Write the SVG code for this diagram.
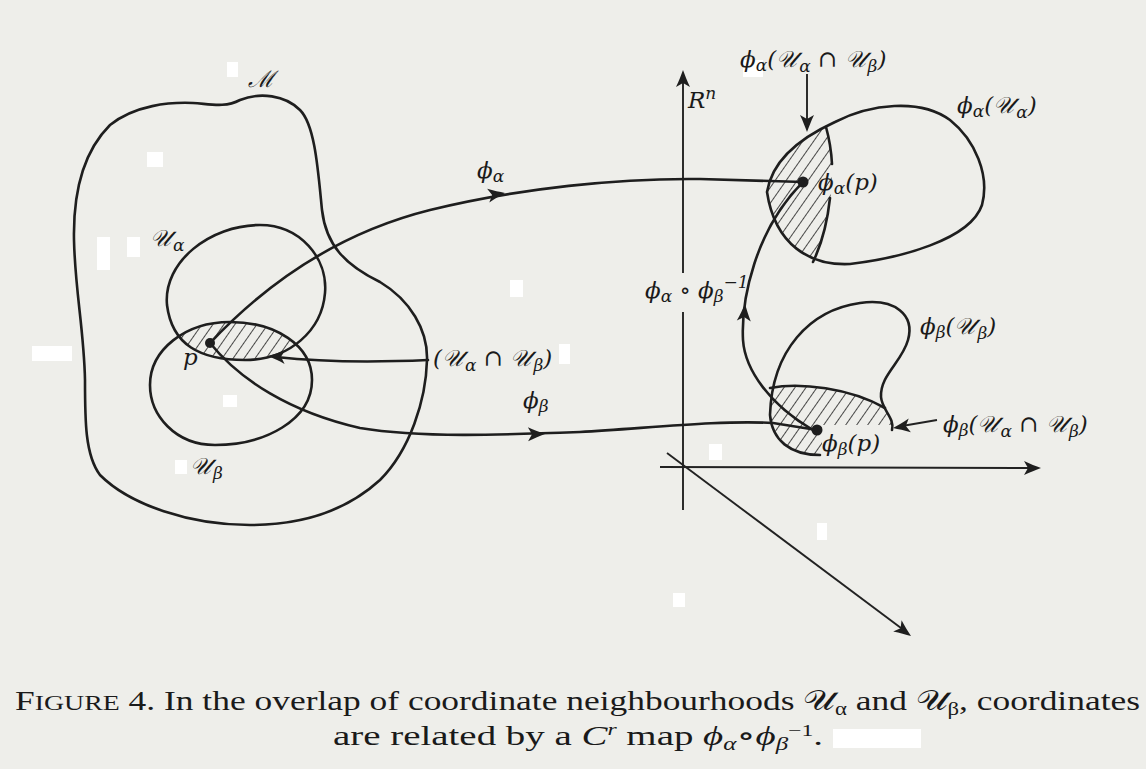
<svg xmlns="http://www.w3.org/2000/svg" width="1146" height="769" viewBox="0 0 1146 769">
<style>
.bg{fill:#eeeeea}
.wp{fill:#ffffff}
.c{fill:none;stroke:#1e1e1e;stroke-width:2.6;stroke-linecap:round;stroke-linejoin:round}
.ax{fill:none;stroke:#222;stroke-width:1.9}
.ah{fill:#1e1e1e}
.dot{fill:#1e1e1e}
.lb{font-family:"DejaVu Serif","Liberation Serif",serif;font-style:italic;font-size:23px;fill:#1a1a1a}
.sub{font-size:17px}
.cap{font-family:"Liberation Serif","DejaVu Serif",serif;font-size:28px;fill:#1a1a1a}
</style>
<defs>
<pattern id="hatch" patternUnits="userSpaceOnUse" width="9" height="9" patternTransform="rotate(35)">
<line x1="0" y1="0" x2="0" y2="9" stroke="#1e1e1e" stroke-width="1.6"/>
</pattern>
<path id="arr" d="M0,0 C-5,-2 -11,-4 -17,-7 L-13,0 L-17,7 C-11,4 -5,2 0,0 Z"/>
<path id="ua" d="M 260,225 C 300,225 328,258 325,293 C 322,330 290,360 245,360 C 200,360 172,345 167,305 C 163,262 210,225 260,225 Z"/>
<path id="ub" d="M 230,322 C 275,322 312,345 312,380 C 312,420 265,445 215,445 C 175,445 150,415 150,385 C 150,350 185,322 230,322 Z"/>
<path id="blobA" d="M 767,192 C 772,160 800,138 835,122 C 870,104 920,98 950,120 C 975,140 990,175 982,205 C 970,240 900,258 850,264 C 810,266 775,245 767,192 Z"/>
<path id="blobB" d="M 820,455 C 790,455 772,440 770,415 C 772,350 810,310 860,303 C 895,298 915,315 908,340 C 902,362 880,375 881,397 C 882,410 895,418 892,430 C 885,450 850,455 820,455 Z"/>
<clipPath id="clipUa"><use href="#ua"/></clipPath>
<clipPath id="clipA"><path d="M 700,80 L 822,80 L 826,127 C 836,165 834,215 813,262 L 800,300 L 700,300 Z"/></clipPath>
<clipPath id="clipB"><path d="M 700,600 L 700,388 L 770,388 C 800,382 850,388 885,408 L 960,420 L 960,425 L 822,425 L 822,600 Z"/></clipPath>
</defs>
<rect class="bg" x="0" y="0" width="1146" height="769"/>

<g id="scan-patches">
<rect class="wp" x="227" y="62" width="11" height="15"/>
<rect class="wp" x="147" y="152" width="16" height="15"/>
<rect class="wp" x="97" y="237" width="13" height="33"/>
<rect class="wp" x="127" y="237" width="13" height="20"/>
<rect class="wp" x="32" y="346" width="40" height="15"/>
<rect class="wp" x="223" y="395" width="14" height="12"/>
<rect class="wp" x="175" y="460" width="12" height="14"/>
<rect class="wp" x="510" y="280" width="13" height="17"/>
<rect class="wp" x="559" y="344" width="11" height="20"/>
<rect class="wp" x="743" y="60" width="20" height="17"/>
<rect class="wp" x="709" y="444" width="13" height="16"/>
<rect class="wp" x="817" y="523" width="10" height="17"/>
<rect class="wp" x="673" y="593" width="12" height="14"/>
<rect class="wp" x="833" y="729" width="88" height="19"/>
</g>

<g id="manifold">
<path class="c" d="M 193,103 C 210,104 225,108 240,100 C 260,92 285,95 300,110 C 315,125 318,170 322,210 C 326,245 345,265 380,282 C 410,300 428,330 427,360 C 426,400 410,450 380,480 C 345,512 300,525 250,525 C 190,525 130,505 100,475 C 85,455 85,420 85,380 C 84,330 75,290 74,240 C 73,190 85,150 110,125 C 135,105 170,102 193,103 Z"/>
<text class="lb" x="248" y="87" font-size="26">ℳ</text>
</g>

<g id="overlap">
<use href="#ub" fill="url(#hatch)" clip-path="url(#clipUa)"/>
</g>

<g id="U-alpha">
<use href="#ua" class="c"/>
<text class="lb" x="150" y="246">𝒰<tspan class="sub" dx="2" dy="5">α</tspan></text>
</g>

<g id="U-beta">
<use href="#ub" class="c"/>
<text class="lb" x="190" y="474">𝒰<tspan class="sub" dx="2" dy="5">β</tspan></text>
</g>

<g id="point-p">
<circle class="dot" cx="210" cy="343" r="5"/>
<text class="lb" x="183" y="365">p</text>
</g>

<g id="overlap-label">
<text class="lb" x="433" y="366">(𝒰<tspan class="sub" dx="2" dy="5">α</tspan><tspan dy="-5"> ∩ 𝒰</tspan><tspan class="sub" dx="2" dy="5">β</tspan><tspan dy="-5">)</tspan></text>
</g>

<g id="axes">
<line class="ax" x1="683" y1="510" x2="683" y2="312"/>
<line class="ax" x1="683" y1="273" x2="683" y2="76"/>
<use href="#arr" class="ah" transform="translate(683,70) rotate(-90)"/>
<line class="ax" x1="660" y1="467" x2="1034" y2="468"/>
<use href="#arr" class="ah" transform="translate(1041,468)"/>
<line class="ax" x1="667" y1="453" x2="905" y2="631"/>
<use href="#arr" class="ah" transform="translate(911,636) rotate(36.8)"/>
<text class="lb" x="688" y="108">R<tspan class="sub" dy="-9" font-size="14">n</tspan></text>
</g>

<g id="phi-alpha-image">
<use href="#blobA" fill="url(#hatch)" clip-path="url(#clipA)"/>
<use href="#blobA" class="c"/>
<path class="c" d="M 826,127 Q 831,145 832,164"/>
<path class="c" d="M 830,198 Q 826,235 813,262"/>
<circle class="dot" cx="803" cy="182" r="5.5"/>
<text class="lb" x="818" y="190">ϕ<tspan class="sub" dy="4">α</tspan><tspan dy="-4">(p)</tspan></text>
<text class="lb" x="957" y="113">ϕ<tspan class="sub" dy="4">α</tspan><tspan dy="-4">(𝒰</tspan><tspan class="sub" dx="2" dy="5">α</tspan><tspan dy="-5">)</tspan></text>
</g>

<g id="phi-beta-image">
<use href="#blobB" fill="url(#hatch)" clip-path="url(#clipB)"/>
<path class="c" d="M 820,455 C 790,455 772,440 770,415 C 772,350 810,310 860,303 C 895,298 915,315 908,340 C 902,362 880,375 881,397 C 882,410 895,418 892,430"/>
<path class="c" d="M 770,388 C 800,382 850,388 885,408"/>
<circle class="dot" cx="817" cy="430" r="5.5"/>
<text class="lb" x="822" y="451">ϕ<tspan class="sub" dy="4">β</tspan><tspan dy="-4">(p)</tspan></text>
<text class="lb" x="920" y="334">ϕ<tspan class="sub" dy="4">β</tspan><tspan dy="-4">(𝒰</tspan><tspan class="sub" dx="2" dy="5">β</tspan><tspan dy="-5">)</tspan></text>
</g>

<g id="top-label">
<text class="lb" x="740" y="67">ϕ<tspan class="sub" dy="4">α</tspan><tspan dy="-4">(𝒰</tspan><tspan class="sub" dx="2" dy="5">α</tspan><tspan dy="-5"> ∩ 𝒰</tspan><tspan class="sub" dx="2" dy="5">β</tspan><tspan dy="-5">)</tspan></text>
</g>

<g id="bottom-label">
<text class="lb" x="943" y="432">ϕ<tspan class="sub" dy="4">β</tspan><tspan dy="-4">(𝒰</tspan><tspan class="sub" dx="2" dy="5">α</tspan><tspan dy="-5"> ∩ 𝒰</tspan><tspan class="sub" dx="2" dy="5">β</tspan><tspan dy="-5">)</tspan></text>
</g>

<g id="connectors">
<path class="c" d="M 210,343 C 260,290 330,235 430,210 C 520,188 620,178 700,179 L 803,182"/>
<use href="#arr" class="ah" transform="translate(505,193) rotate(-9)"/>
<text class="lb" x="477" y="178">ϕ<tspan class="sub" dy="4">α</tspan></text>

<path class="c" d="M 210,343 C 240,380 290,412 360,428 C 420,438 500,435 580,432 C 650,428 720,420 773,423 L 817,430"/>
<use href="#arr" class="ah" transform="translate(545,434) rotate(-1)"/>
<text class="lb" x="523" y="408">ϕ<tspan class="sub" dy="4">β</tspan></text>

<path class="c" d="M 813,430 C 770,405 745,370 743,340 C 741,300 755,230 803,182"/>
<use href="#arr" class="ah" transform="translate(745,304) rotate(-86)"/>
<text class="lb" x="645" y="298">ϕ<tspan class="sub" dy="4">α</tspan><tspan dy="-4"> ∘ ϕ</tspan><tspan class="sub" dy="4">β</tspan><tspan class="sub" dy="-14">−1</tspan></text>

<path class="c" d="M 428,360 Q 340,364 276,357" stroke-width="2.2"/>
<use href="#arr" class="ah" transform="translate(268,356) rotate(183)"/>

<line class="ax" x1="807" y1="74" x2="807" y2="124"/>
<use href="#arr" class="ah" transform="translate(807,132) rotate(90)"/>

<line class="ax" x1="937" y1="420" x2="902" y2="426"/>
<use href="#arr" class="ah" transform="translate(893,428) rotate(171)"/>
</g>

<g id="caption">
<text class="cap" x="15" y="710" textLength="1125" lengthAdjust="spacingAndGlyphs">F<tspan font-size="22">IGURE</tspan> 4. In the overlap of coordinate neighbourhoods 𝒰<tspan font-size="18" dy="5">α</tspan><tspan dy="-5"> and 𝒰</tspan><tspan font-size="18" dy="5">β</tspan><tspan dy="-5">, coordinates</tspan></text>
<text class="cap" x="333" y="745" textLength="490" lengthAdjust="spacingAndGlyphs">are related by a <tspan font-style="italic">C</tspan><tspan font-size="17" dy="-10" font-style="italic">r</tspan><tspan dy="10"> map </tspan><tspan font-style="italic">ϕ</tspan><tspan font-size="18" dy="5" font-style="italic">α</tspan><tspan dy="-5">∘</tspan><tspan font-style="italic">ϕ</tspan><tspan font-size="18" dy="5" font-style="italic">β</tspan><tspan font-size="17" dy="-14">−1</tspan><tspan dy="9">.</tspan></text>
</g>
</svg>
